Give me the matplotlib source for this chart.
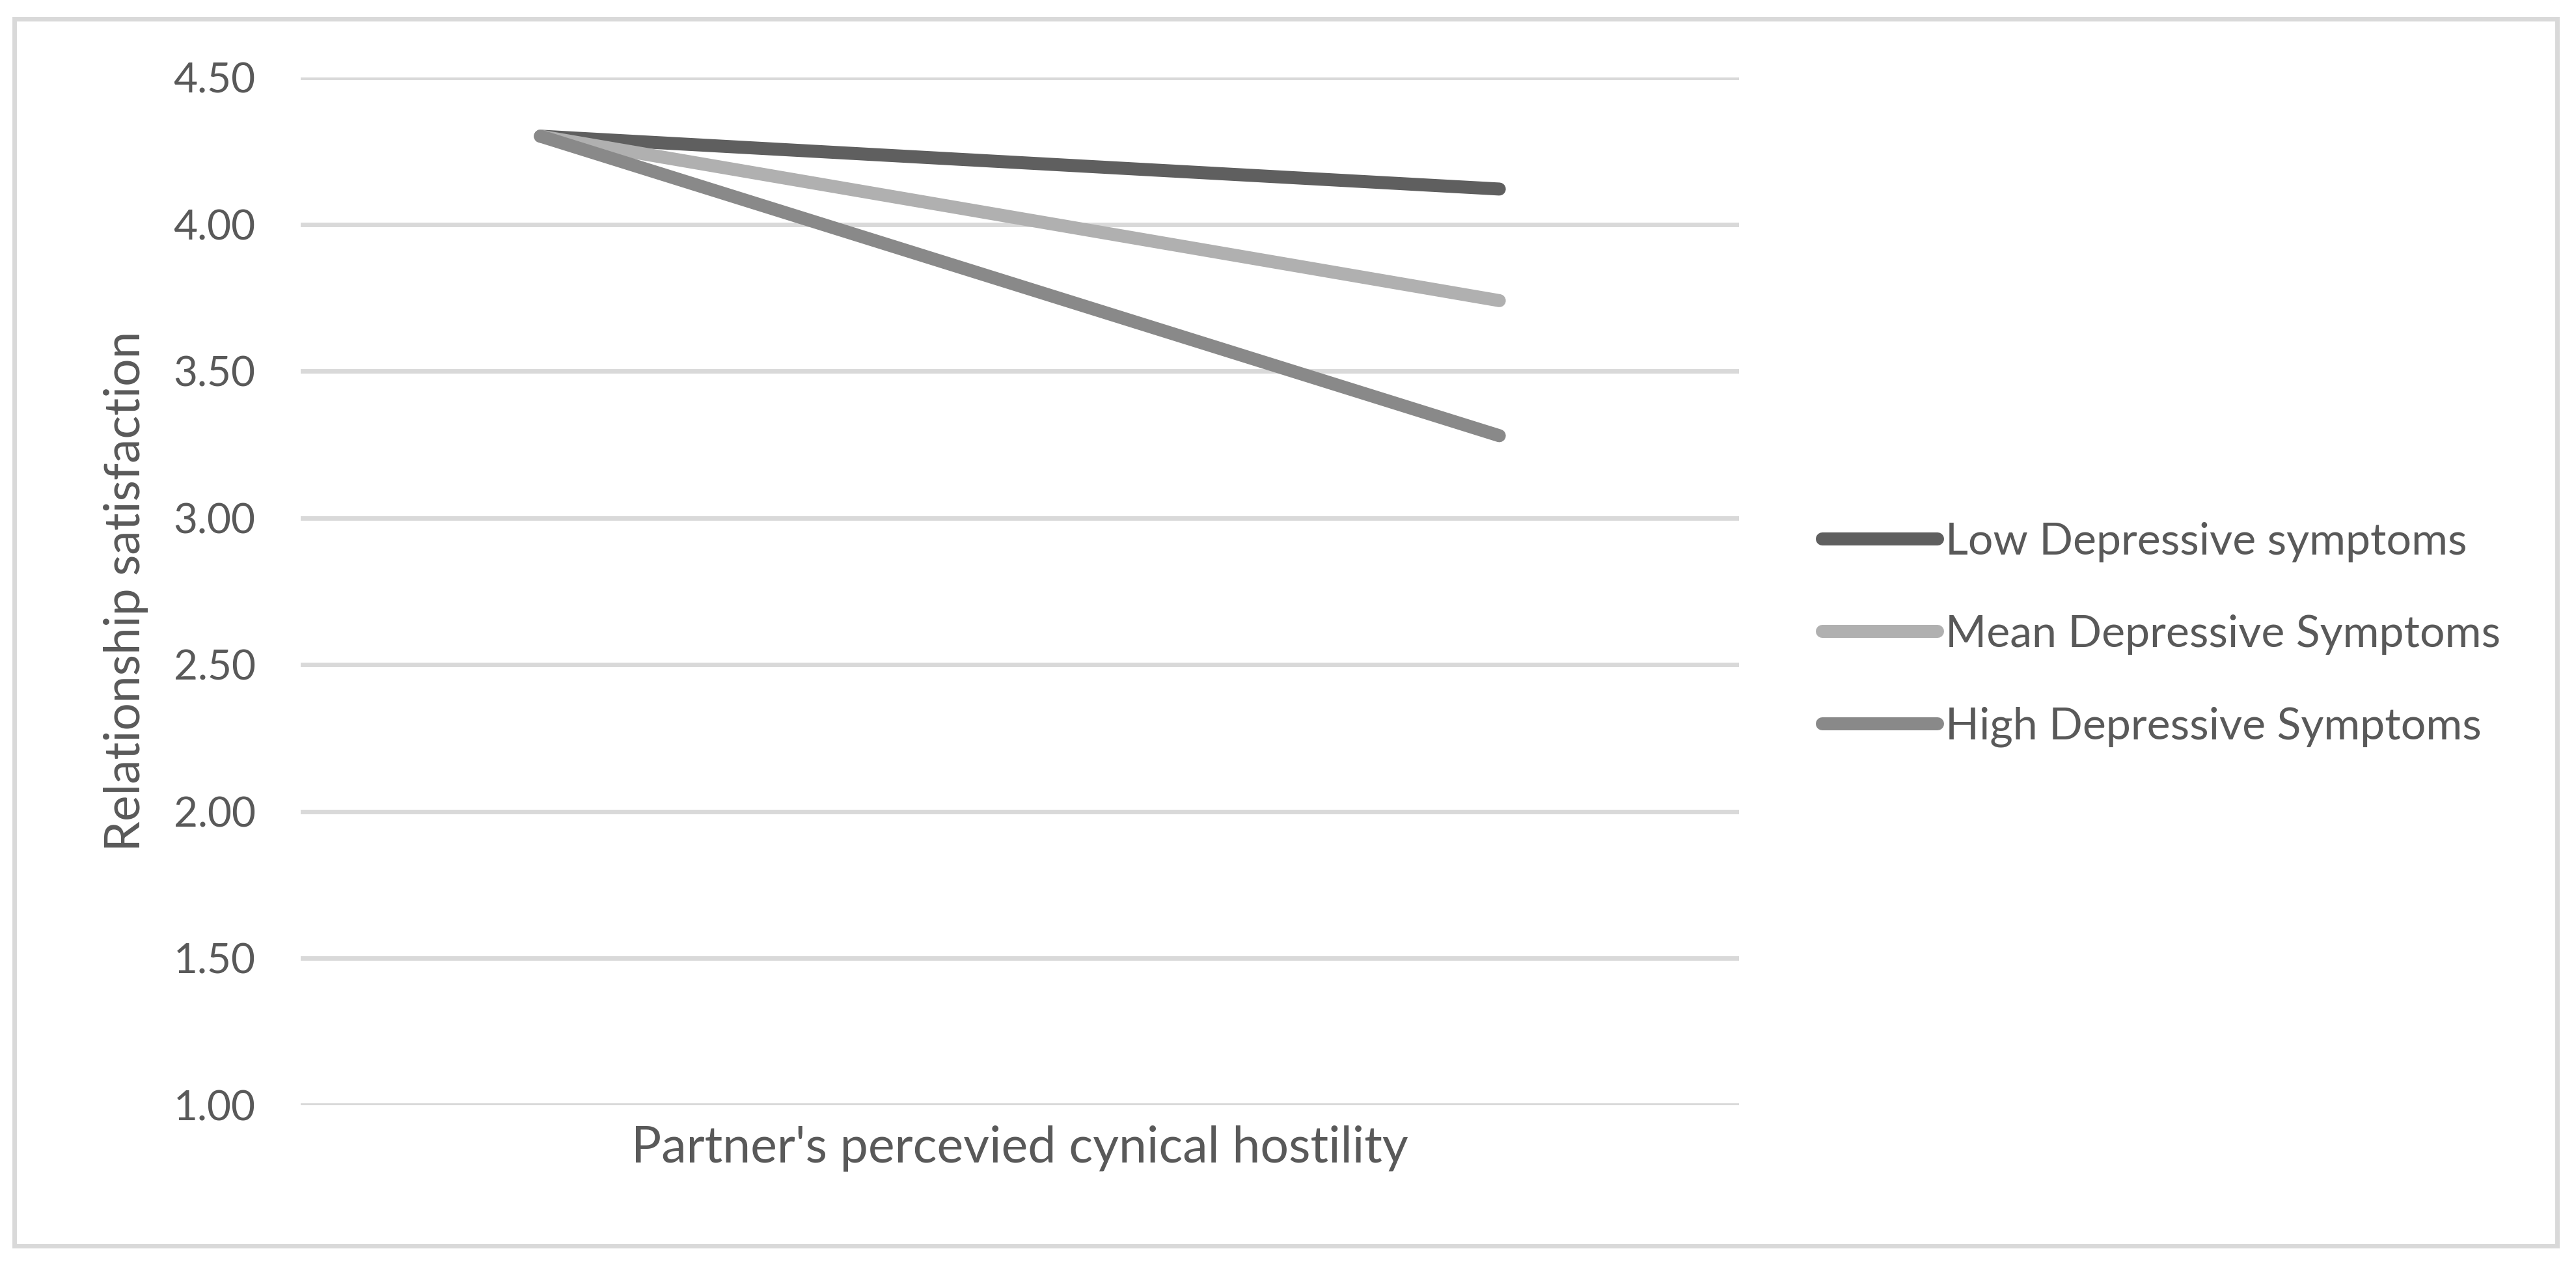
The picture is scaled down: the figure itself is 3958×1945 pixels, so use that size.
import matplotlib
matplotlib.use("Agg")
import matplotlib.pyplot as plt
from matplotlib.patches import Rectangle

# Dados do gráfico (moderação: sintomas depressivos)
x_pos = [-1, 1]  # baixa / alta hostilidade cínica percebida do parceiro
series_names = ["Low Depressive symptoms", "Mean Depressive Symptoms", "High Depressive Symptoms"]
low_vals = [4.30, 4.12]
mean_vals = [4.30, 3.74]
high_vals = [4.30, 3.28]
y_ticks = [1.00, 1.50, 2.00, 2.50, 3.00, 3.50, 4.00, 4.50]

cores = ["#5f5f5f", "#b0b0b0", "#898989"]
texto = "#595959"
grade = "#d9d9d9"

plt.rcParams['font.family'] = ['Lato', 'DejaVu Sans']

W, H = 3958, 1945
fig = plt.figure(figsize=(W / 100, H / 100), dpi=100)
ax = fig.add_axes([462 / W, 1 - 1698 / H, (2672 - 462) / W, (1698 - 119) / H])

for vals, nome, cor in zip([low_vals, mean_vals, high_vals], series_names, cores):
    ax.plot(x_pos, vals, color=cor, lw=14.4, solid_capstyle='round', label=nome, zorder=3)

ax.set_xlim(-1.5, 1.5)
ax.set_ylim(1.0, 4.5)
ax.set_yticks(y_ticks)
ax.set_yticklabels([f"{v:.2f}" for v in y_ticks])
ax.set_xticks([])
ax.grid(axis='y', color=grade, lw=5, zorder=0)
ax.tick_params(axis='y', length=0, pad=50, labelsize=46, labelcolor=texto)
for s in ax.spines.values():
    s.set_visible(False)

ax.set_ylabel("Relationship satisfaction", fontsize=54, color=texto)
ax.yaxis.set_label_coords(-0.106, 0.5)
ax.set_xlabel("Partner's percevied cynical hostility", fontsize=55.5, color=texto, va='center')
ax.xaxis.set_label_coords(0.5, -(1764 - 1698) / (1698 - 119))

# Legenda à direita
leg = fig.legend(loc='center left', bbox_to_anchor=(2800 / W, 1 - 975 / H), frameon=False,
                 fontsize=49, handlelength=2.6, handletextpad=0.18, labelspacing=1.17,
                 borderaxespad=0, borderpad=0)
for t in leg.get_texts():
    t.set_color(texto)
for h in leg.legend_handles:
    h.set_solid_capstyle('round')

# Borda da área do gráfico
fig.patches.append(Rectangle((22 / W, 1 - 1914 / H), (3929 - 22) / W, (1914 - 29) / H,
                             transform=fig.transFigure, fill=False, edgecolor=grade, lw=5))

fig.savefig("out.png", dpi=100, facecolor='white')
